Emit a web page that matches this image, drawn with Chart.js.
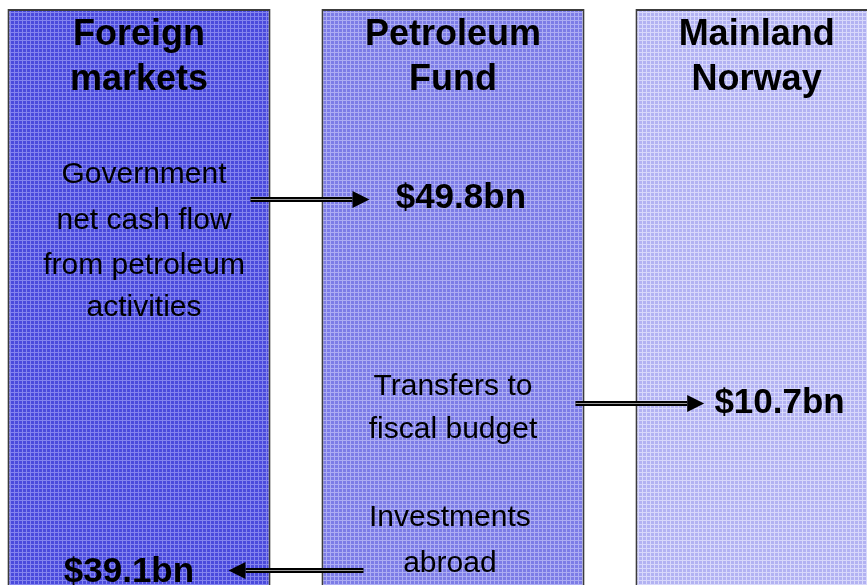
<!DOCTYPE html>
<html>
<head>
<meta charset="utf-8">
<script src="https://cdn.jsdelivr.net/npm/chart.js@4/dist/chart.umd.min.js"></script>
<style>
  html, body { margin: 0; padding: 0; background: #fff; overflow: hidden; width: 867px; height: 585px; }
  #wrap { position: absolute; left: -18px; top: 0; }
</style>
</head>
<body>
<div id="wrap"><canvas id="flow-chart" width="942" height="609"></canvas></div>
<script>
// columns of the diagram
const columns = ["Foreign markets", "Petroleum Fund", "Mainland Norway"];
const columnHeights = [100, 100, 100];
const headerLines = [["Foreign", "markets"], ["Petroleum", "Fund"], ["Mainland", "Norway"]];
const headerX = [0, 1, 1.967];
const headerY = [94, 86.5];

// flows (amounts in USD bn)
const flowAmounts = [49.8, 10.7, 39.1];
const flowLabels = ["$49.8bn", "$10.7bn", "$39.1bn"];
const flowLabelX = [1.025, 2.04, -0.032];
const flowLabelY = [66.8, 32.7, 4.5];

const flowText = [
  ["Government", "net cash flow", "from petroleum", "activities"],
  ["Transfers to", "fiscal budget"],
  ["Investments", "abroad"]
];
const flowTextX = [0.016, 1.0, 0.99];
const flowTextY = [[71, 63.3, 55.8, 48.8], [35.7, 28.5], [13.8, 6.2]];

// arrows: from -> to (x in column units), at height y
const arrowFrom = [0.355, 1.39, 0.715];
const arrowTo = [0.734, 1.80, 0.285];
const arrowY = [68.3, 34.3, 6.5];

function gridPattern(base, line) {
  const c = document.createElement('canvas');
  c.width = 4; c.height = 4;
  const g = c.getContext('2d');
  g.fillStyle = base;
  g.fillRect(0, 0, 4, 4);
  g.fillStyle = line;
  g.fillRect(0, 0, 4, 1);
  g.fillRect(0, 0, 1, 4);
  return g.createPattern(c, 'repeat');
}

const fills = [
  gridPattern('#4a4adc', '#8484ee'),
  gridPattern('#7c7ce6', '#adadf3'),
  gridPattern('#b2b2f2', '#d8d8fb')
];

const FONT = '"Liberation Sans", Arial, sans-serif';

const labelPlugin = {
  id: 'flowLabels',
  afterDatasetsDraw(chart) {
    const ctx = chart.ctx;
    const xs = chart.scales.x, ys = chart.scales.y;
    ctx.save();
    ctx.fillStyle = '#000';
    ctx.textAlign = 'center';
    ctx.textBaseline = 'alphabetic';

    // headers
    ctx.font = 'bold 36px ' + FONT;
    headerLines.forEach((lines, i) => {
      lines.forEach((t, j) => {
        ctx.fillText(t, xs.getPixelForValue(headerX[i]), ys.getPixelForValue(headerY[j]));
      });
    });

    // descriptive text
    ctx.font = '30px ' + FONT;
    flowText.forEach((lines, i) => {
      lines.forEach((t, j) => {
        ctx.fillText(t, xs.getPixelForValue(flowTextX[i]), ys.getPixelForValue(flowTextY[i][j]));
      });
    });

    // amounts
    ctx.font = 'bold 35px ' + FONT;
    flowLabels.forEach((t, i) => {
      ctx.fillText(t, xs.getPixelForValue(flowLabelX[i]), ys.getPixelForValue(flowLabelY[i]));
    });

    // arrows
    arrowFrom.forEach((from, i) => {
      const x0 = xs.getPixelForValue(from);
      const x1 = xs.getPixelForValue(arrowTo[i]);
      const y = Math.round(ys.getPixelForValue(arrowY[i]));
      const dir = x1 > x0 ? 1 : -1;
      const headLen = 17, headH = 8.5;
      const xs0 = x1 - dir * headLen;
      ctx.fillStyle = '#000';
      ctx.fillRect(Math.min(x0, xs0), y - 2, Math.abs(xs0 - x0), 5);
      ctx.fillStyle = '#9a9a9a';
      ctx.fillRect(Math.min(x0, xs0), y, Math.abs(xs0 - x0), 1);
      ctx.fillStyle = '#000';
      ctx.beginPath();
      ctx.moveTo(x1, y + 0.5);
      ctx.lineTo(xs0, y + 0.5 - headH);
      ctx.lineTo(xs0, y + 0.5 + headH);
      ctx.closePath();
      ctx.fill();
    });
    ctx.restore();
  }
};

const flowCanvas = document.getElementById('flow-chart').getContext('2d');

let flowChart = new Chart(flowCanvas, {
  type: 'bar',
  data: {
    labels: columns,
    datasets: [{
      data: columnHeights,
      backgroundColor: fills,
      borderColor: '#3c3c3c',
      borderWidth: 2,
      borderSkipped: 'start',
      barPercentage: 0.838,
      categoryPercentage: 1
    }]
  },
  options: {
    responsive: false,
    devicePixelRatio: 1,
    animation: { duration: 0 },
    layout: { padding: { top: 9, left: 0, right: 0, bottom: 0 } },
    scales: {
      x: { display: false },
      y: { display: false, min: 0, max: 100 }
    },
    plugins: {
      legend: { display: false },
      tooltip: { enabled: false }
    }
  },
  plugins: [labelPlugin]
});
</script>
</body>
</html>
